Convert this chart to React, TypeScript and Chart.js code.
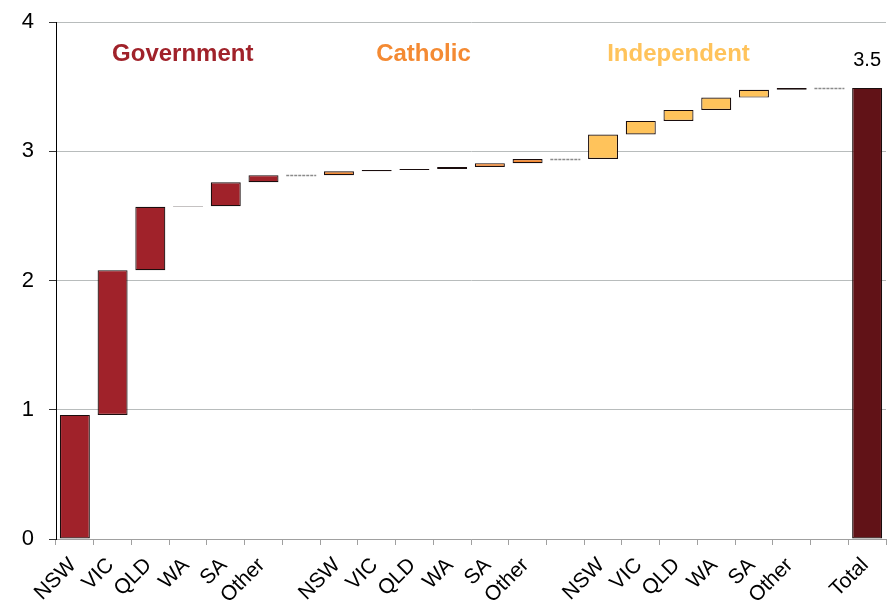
import React, { useEffect, useRef } from "react";
import { Chart, registerables } from "chart.js";

Chart.register(...registerables);

// ---- Data ----
const stateLabels = ["NSW", "VIC", "QLD", "WA", "SA", "Other"];
const governmentChanges = [0.96, 1.12, 0.49, 0.005, 0.185, 0.055];
const catholicChanges = [0.03, 0.01, 0.008, 0.015, 0.03, 0.032];
const independentChanges = [0.19, 0.105, 0.085, 0.095, 0.06, 0.015];
const groupNames = ["Government", "Catholic", "Independent"];
const groupColors = ["#A0222A", "#F48A33", "#FFC35B"];
const totalLabel = "Total";
const totalColor = "#611217";
const yTicks = [0, 1, 2, 3, 4];

// Build waterfall table from the arrays above
const groups = [governmentChanges, catholicChanges, independentChanges];
const categories: string[] = [];
const floating: ([number, number] | null)[] = [];
const barColors: string[] = [];
let running = 0;
groups.forEach((changes, g) => {
  changes.forEach((c, i) => {
    categories.push(stateLabels[i]);
    floating.push([running, running + c]);
    barColors.push(groupColors[g]);
    running += c;
  });
  categories.push("");
  floating.push(null);
  barColors.push("rgba(0,0,0,0)");
});
categories.push(totalLabel);
floating.push([0, running]);
barColors.push(totalColor);
const totalValue = running;

const FONT = "'Liberation Sans', Arial, Helvetica, sans-serif";

const annotationPlugin = {
  id: "waterfallExtras",
  afterDatasetsDraw(chart: any, _args: any, opts: any) {
    const ctx = chart.ctx;
    const x = chart.scales.x;
    const y = chart.scales.y;
    const meta = chart.getDatasetMeta(0);
    ctx.save();
    // dashed connectors in the gap slots
    categories.forEach((lab, i) => {
      if (lab !== "" || i === 0) return;
      const prev = floating[i - 1];
      if (!prev) return;
      const el = meta.data[i - 1];
      const w = el ? el.width : 30;
      const cx = x.getPixelForValue(i);
      const py = Math.round(y.getPixelForValue(prev[1])) + 0.5;
      ctx.beginPath();
      ctx.setLineDash([3, 1]);
      ctx.strokeStyle = "#8a8a8a";
      ctx.lineWidth = 1.5;
      ctx.moveTo(cx - w / 2, py);
      ctx.lineTo(cx + w / 2, py);
      ctx.stroke();
    });
    ctx.setLineDash([]);
    // total value label
    const ti = categories.length - 1;
    ctx.fillStyle = "#000";
    ctx.font = `20px ${FONT}`;
    ctx.textAlign = "center";
    ctx.textBaseline = "bottom";
    ctx.fillText(
      totalValue.toFixed(1),
      x.getPixelForValue(ti),
      y.getPixelForValue(totalValue) - 17
    );
    // group titles
    ctx.font = `bold 24px ${FONT}`;
    ctx.textBaseline = "middle";
    groupNames.forEach((name, g) => {
      ctx.fillStyle = groupColors[g];
      ctx.fillText(
        name,
        x.getPixelForValue(opts.titleAnchors[g]),
        y.getPixelForValue(opts.titleLevel)
      );
    });
    ctx.restore();
  },
};

export default function App() {
  const ref = useRef<HTMLCanvasElement | null>(null);
  useEffect(() => {
    if (!ref.current) return;
    const chart = new Chart(ref.current, {
      type: "bar",
      data: {
        labels: categories,
        datasets: [
          {
            data: floating as any,
            backgroundColor: barColors,
            borderColor: "#1a0d0d",
            borderWidth: 1.2,
            borderSkipped: false,
            categoryPercentage: 1,
            barPercentage: 0.795,
          },
        ],
      },
      options: {
        animation: false,
        responsive: true,
        maintainAspectRatio: false,
        layout: { padding: { top: 22, right: 8, left: 0, bottom: 0 } },
        plugins: {
          legend: { display: false },
          tooltip: { enabled: false },
          waterfallExtras: { titleAnchors: [2.86, 9.24, 16.0], titleLevel: 3.75 },
        } as any,
        scales: {
          x: {
            offset: true,
            grid: {
              offset: true,
              drawOnChartArea: false,
              drawTicks: true,
              tickLength: 6,
              tickColor: "#a0a0a0",
            },
            border: { color: "#a0a0a0", width: 1 },
            ticks: {
              autoSkip: false,
              maxRotation: 45,
              minRotation: 45,
              padding: 8,
              labelOffset: -2,
              color: "#000",
              font: { family: FONT, size: 21 },
            },
            afterFit: (s: any) => {
              s.height = 71;
            },
          },
          y: {
            min: 0,
            max: 4,
            afterBuildTicks: (s: any) => {
              s.ticks = yTicks.map((v) => ({ value: v }));
            },
            grid: {
              color: "#b8bcbc",
              tickColor: "#333",
              tickLength: 7,
            },
            border: { color: "#000", width: 1 },
            ticks: {
              padding: 15,
              color: "#000",
              font: { family: FONT, size: 22 },
            },
            afterFit: (s: any) => {
              s.width = 56;
              s.paddingTop = 0;
              s.paddingBottom = 0;
            },
          },
        },
      },
      plugins: [annotationPlugin],
    });
    return () => chart.destroy();
  }, []);
  return (
    <div
      style={{
        position: "fixed",
        left: 0,
        top: 0,
        width: 894,
        height: 610,
        background: "#fff",
      }}
    >
      <canvas ref={ref} />
    </div>
  );
}
